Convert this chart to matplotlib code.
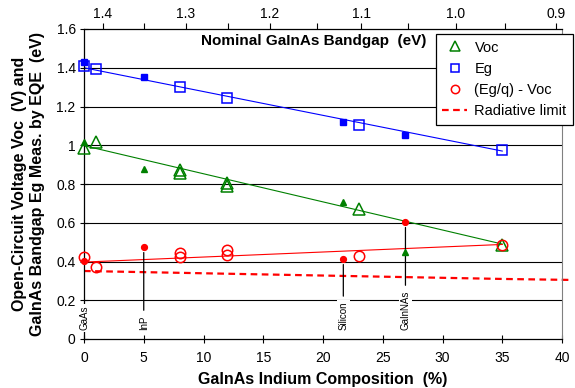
import matplotlib
matplotlib.use("Agg")
import matplotlib.pyplot as plt
from matplotlib.lines import Line2D

plt.rcParams['font.family'] = ['Liberation Sans', 'DejaVu Sans']

# measured points, indium composition (%)
eg_x = [0, 1, 8, 12, 23, 35]
eg_y = [1.409, 1.394, 1.300, 1.244, 1.104, 0.975]
voc_x = [0, 1, 8, 8, 12, 12, 23, 35]
voc_y = [0.985, 1.017, 0.872, 0.857, 0.805, 0.790, 0.671, 0.485]
gap_x = [0, 1, 8, 8, 12, 12, 23, 35]
gap_y = [0.423, 0.372, 0.444, 0.423, 0.459, 0.433, 0.428, 0.485]

# reference materials (GaAs, InP, Silicon, GaInNAs)
ref_names = ['GaAs', 'InP', 'Silicon', 'GaInNAs']
ref_x = [0, 5, 21.7, 26.9]
ref_eg = [1.428, 1.352, 1.120, 1.053]
ref_voc = [1.017, 0.877, 0.707, 0.449]
ref_gap = [0.403, 0.475, 0.413, 0.604]

# linear trendlines
fit_x = [0, 35]
eg_fit = [1.400, 0.970]
voc_fit = [0.998, 0.490]
gap_fit = [0.397, 0.488]

radiative_x = [0, 17, 35, 40.6]
radiative_y = [0.351, 0.331, 0.310, 0.305]

# nominal bandgap scale on top, placed at equivalent composition
top_eg = ['1.4', '1.3', '1.2', '1.1', '1.0', '0.9']
top_eg_x = [1.59, 8.54, 15.56, 23.18, 31.13, 39.50]
top_minor_x = [5.02, 12.05, 19.50, 27.11, 35.23]

GREEN = '#008000'
BLUE = '#0000FF'
RED = '#FF0000'

fig = plt.figure(figsize=(5.75, 3.88), dpi=100)
ax = fig.add_axes([84 / 575, 1 - 339 / 388, 478 / 575, 310 / 388])

ax.set_xlim(0, 40)
ax.set_ylim(0, 1.6)
ax.set_xticks(range(0, 41, 5))
ax.set_yticks([0, 0.2, 0.4, 0.6, 0.8, 1.0, 1.2, 1.4, 1.6])
ax.set_yticklabels(['0', '0.2', '0.4', '0.6', '0.8', '1', '1.2', '1.4', '1.6'])
ax.tick_params(axis='both', direction='inout', length=6, width=0.8,
               labelsize=10, colors='black')
ax.tick_params(axis='x', pad=6)
ax.tick_params(axis='y', pad=3)

for yv in [0.2, 0.4, 0.6, 0.8, 1.0, 1.2, 1.4]:
    ax.axhline(yv, color='black', lw=0.8, zorder=1)

ax.spines['top'].set_visible(False)
ax.spines['right'].set_color('#808080')
ax.spines['left'].set_linewidth(0.9)
ax.spines['bottom'].set_linewidth(0.9)

ax.plot(fit_x, eg_fit, color=BLUE, lw=0.8, zorder=2)
ax.plot(fit_x, voc_fit, color=GREEN, lw=0.8, zorder=2)
ax.plot(fit_x, gap_fit, color=RED, lw=0.8, zorder=2)
ax.plot(radiative_x, radiative_y, color=RED, lw=1.6, ls=(0, (3, 2)),
        zorder=2, clip_on=False)

ax.plot(eg_x, eg_y, 's', ms=7.5, mfc='none', mec=BLUE, mew=1.1,
        zorder=4, clip_on=False)
ax.plot(voc_x, voc_y, '^', ms=9, mfc='none', mec=GREEN, mew=1.1,
        zorder=4, clip_on=False)
ax.plot(gap_x, gap_y, 'o', ms=7.5, mfc='none', mec=RED, mew=1.1,
        zorder=4, clip_on=False)

ax.plot(ref_x, ref_eg, 's', ms=3.8, color=BLUE, zorder=5, clip_on=False)
ax.plot(ref_x, ref_voc, '^', ms=4.2, color=GREEN, zorder=5, clip_on=False)
ax.plot(ref_x, ref_gap, 'o', ms=4.2, color=RED, zorder=5, clip_on=False)

# material labels, leader line runs down from the red point
for name, x, yg in zip(ref_names, ref_x, ref_gap):
    arrow = None
    if x > 0:
        arrow = dict(arrowstyle='-', color='black', lw=0.9,
                     shrinkA=3, shrinkB=4)
    ax.annotate(name, xy=(x, yg), xytext=(x, 0.045),
                rotation=90, ha='center', va='bottom', fontsize=7,
                bbox=dict(boxstyle='square,pad=0.15', fc='white', ec='none'),
                arrowprops=arrow, zorder=3)

ax.set_xlabel('GaInAs Indium Composition  (%)', fontsize=11.5,
              fontweight='bold', labelpad=5)
ax.set_ylabel('Open-Circuit Voltage Voc  (V) and\n'
              'GaInAs Bandgap Eg Meas. by EQE  (eV)',
              fontsize=11.5, fontweight='bold', labelpad=8,
              linespacing=1.3)

ax.text(0.481, 0.961, 'Nominal GaInAs Bandgap  (eV)', transform=ax.transAxes,
        ha='center', va='center', fontsize=11, fontweight='bold')

top_ax = ax.twiny()
top_ax.set_xlim(ax.get_xlim())
top_ax.set_xticks(top_eg_x)
top_ax.set_xticklabels(top_eg)
top_ax.set_xticks(top_minor_x, minor=True)
top_ax.tick_params(axis='x', which='both', direction='out', length=4,
                   width=0.8, labelsize=10, pad=2)
for side in ['left', 'right', 'bottom']:
    top_ax.spines[side].set_visible(False)
top_ax.spines['top'].set_linewidth(0.9)

handles = [
    Line2D([], [], ls='none', marker='^', ms=7, mfc='none', mec=GREEN, mew=1.1),
    Line2D([], [], ls='none', marker='s', ms=6, mfc='none', mec=BLUE, mew=1.1),
    Line2D([], [], ls='none', marker='o', ms=6, mfc='none', mec=RED, mew=1.1),
    Line2D([], [], color=RED, lw=1.6, ls=(0, (3, 2))),
]
leg = top_ax.legend(handles, ['Voc', 'Eg', '(Eg/q) - Voc', 'Radiative limit'],
                    loc='upper left', bbox_to_anchor=(0.736, 0.984),
                    borderaxespad=0, fontsize=10.5, frameon=True,
                    fancybox=False, edgecolor='black', framealpha=1,
                    handlelength=1.7, handletextpad=0.5, labelspacing=0.5,
                    borderpad=0.45)
leg.get_frame().set_linewidth(0.9)
leg.set_zorder(10)

fig.savefig('out.png', dpi=100)
